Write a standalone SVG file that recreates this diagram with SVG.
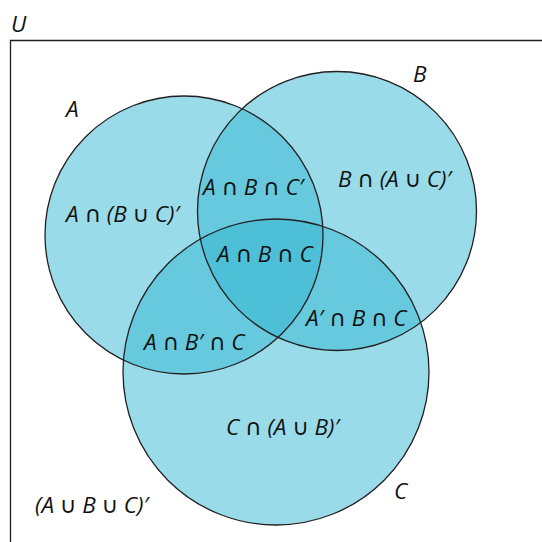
<svg xmlns="http://www.w3.org/2000/svg" width="542" height="542" viewBox="0 0 542 542">
  <style>
    .fill { fill: rgb(51,183,209); fill-opacity: 0.5; stroke: none; }
    .edge { fill: none; stroke: #231f20; stroke-width: 1.3; }
    .lbl { font-family: "Open Sans", "Noto Sans", "DejaVu Sans", sans-serif; font-style: italic; font-size: 22.5px; fill: #111; }
  </style>
  <rect width="542" height="542" fill="#ffffff"/>
  <g id="universe">
    <polyline class="edge" points="10.5,542 10.5,40.5 542,40.5"/>
    <text class="lbl" x="11" y="32">U</text>
  </g>
  <g id="fills">
    <circle class="fill" cx="184" cy="235" r="139"/>
    <circle class="fill" cx="337" cy="211" r="139.5"/>
    <circle class="fill" cx="276" cy="372" r="153"/>
  </g>
  <g id="set-A">
    <circle class="edge" cx="184" cy="235" r="139"/>
    <text class="lbl" x="66" y="117">A</text>
  </g>
  <g id="set-B">
    <circle class="edge" cx="337" cy="211" r="139.5"/>
    <text class="lbl" x="413" y="82">B</text>
  </g>
  <g id="set-C">
    <circle class="edge" cx="276" cy="372" r="153"/>
    <text class="lbl" x="394" y="499">C</text>
  </g>
  <g id="regions">
    <text class="lbl" x="66" y="222">A ∩ (B ∪ C)′</text>
    <text class="lbl" x="203" y="195">A ∩ B ∩ C′</text>
    <text class="lbl" x="338" y="187">B ∩ (A ∪ C)′</text>
    <text class="lbl" x="217" y="262">A ∩ B ∩ C</text>
    <text class="lbl" x="144" y="350">A ∩ B′ ∩ C</text>
    <text class="lbl" x="306" y="326">A′ ∩ B ∩ C</text>
    <text class="lbl" x="226" y="435">C ∩ (A ∪ B)′</text>
    <text class="lbl" x="35" y="513">(A ∪ B ∪ C)′</text>
  </g>
</svg>
